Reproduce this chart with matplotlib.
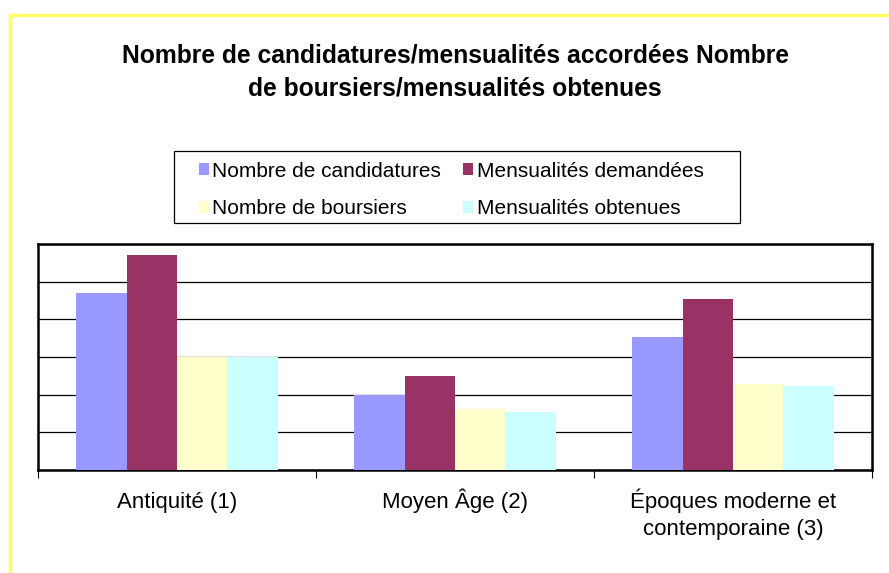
import matplotlib.pyplot as plt
import matplotlib.patches as mpatches
import matplotlib.transforms as mtrans
import numpy as np

plt.rcParams['font.family'] = ['Liberation Sans', 'DejaVu Sans']

# data (gridlines taken as steps of 10)
categories = ["Antiquité (1)", "Moyen Âge (2)", "Époques moderne et\ncontemporaine (3)"]
series_names = ["Nombre de candidatures", "Mensualités demandées",
                "Nombre de boursiers", "Mensualités obtenues"]
candidatures = [47, 20, 35.4]
mens_demandees = [57, 25, 45.4]
boursiers = [30, 16.3, 22.7]
mens_obtenues = [30, 15.3, 22.4]
colors = ["#9999FF", "#993366", "#FFFFCC", "#CCFFFF"]

series = [candidatures, mens_demandees, boursiers, mens_obtenues]

W, H = 889, 573
fig = plt.figure(figsize=(W/100, H/100), dpi=100)
ax = fig.add_axes([38/W, 103/H, 834/W, 226/H])

x = np.arange(len(categories)) + 0.5
w = 0.181
bars = []
for i, vals in enumerate(series):
    b = ax.bar(x + (i - 1.5)*w, vals, w, color=colors[i], label=series_names[i],
               linewidth=0, zorder=3)
    bars.append(b)

ax.set_xlim(0, 3)
ax.set_ylim(0, 60)
ax.set_yticks(np.arange(0, 61, 10))
ax.yaxis.grid(True, color='black', linewidth=0.9, zorder=1)
ax.tick_params(axis='y', left=False, labelleft=False)

# ticks at category borders, labels written under the centres
ax.set_xticks([0, 1, 2, 3])
ax.set_xticklabels([])
ax.tick_params(axis='x', which='major', length=6, width=0.8, color='black')
for xi, lab in zip(x, categories):
    for k, line in enumerate(lab.split('\n')):
        tr = mtrans.offset_copy(ax.get_xaxis_transform(), fig=fig,
                                y=-38 - 27*k, units='dots')
        ax.text(xi, 0, line, transform=tr, ha='center', va='baseline',
                fontsize=16)

for s in ax.spines.values():
    s.set_linewidth(1.8)
    s.set_color('black')

fig.text(0.512, 1 - 96/H,
         "Nombre de candidatures/mensualités accordées Nombre\nde boursiers/mensualités obtenues",
         ha='center', va='baseline', fontsize=17.7, fontweight='bold', linespacing=1.5)

# legend: rows are candidatures/demandées then boursiers/obtenues
order = [0, 2, 1, 3]
leg = fig.legend([bars[i] for i in order], [series_names[i] for i in order],
                 loc='center', bbox_to_anchor=(451/W, 1 - 190/H), ncol=2,
                 fontsize=15, frameon=False, borderpad=0,
                 handlelength=0.5, handleheight=0.5, handletextpad=0.15,
                 columnspacing=1.06, labelspacing=0.9)
fig.add_artist(mpatches.Rectangle((174/W, 1 - 222.7/H), 566/W, 72/H,
                                  transform=fig.transFigure, fill=False,
                                  edgecolor='black', linewidth=0.9))

# yellow frame around the chart
fig.add_artist(mpatches.Rectangle((10/W, -0.1), 1.2, 0.1 + 558/H,
                                  transform=fig.transFigure, fill=False,
                                  edgecolor='#FFFF66', linewidth=2.5))

fig.savefig('out.png', dpi=100)
